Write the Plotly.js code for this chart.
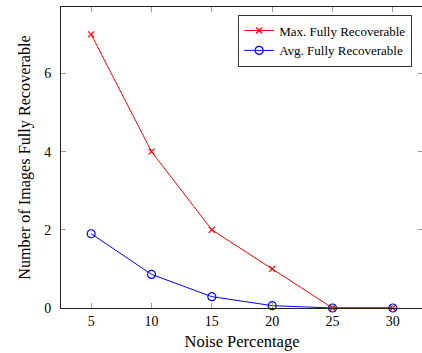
<!DOCTYPE html>
<html>
<head>
<meta charset="utf-8">
<script src="https://cdn.plot.ly/plotly-3.0.1.min.js"></script>
<style>
html,body{margin:0;padding:0;overflow:hidden;background:#fff;}
#chart{width:425px;height:353px;}
</style>
</head>
<body>
<div id="chart"></div>
<script>
const noise = [5, 10, 15, 20, 25, 30];
const maxRecoverable = [7, 4, 2, 1, 0, 0];
const avgRecoverable = [1.9, 0.86, 0.29, 0.06, 0, 0];
const seriesNames = ['Max. Fully Recoverable', 'Avg. Fully Recoverable'];

const FONT = 'Liberation Serif, Times New Roman, serif';

const traces = [
  {
    x: noise, y: maxRecoverable, name: seriesNames[0],
    mode: 'lines+markers', type: 'scatter', cliponaxis: false,
    line: {color: '#ff0000', width: 1},
    marker: {symbol: 'x-thin-open', size: 6, color: '#ff0000', line: {color: '#ff0000', width: 1.2}}
  },
  {
    x: noise, y: avgRecoverable, name: seriesNames[1],
    mode: 'lines+markers', type: 'scatter', cliponaxis: false,
    line: {color: '#0000ff', width: 1},
    marker: {symbol: 'circle-open', size: 8, color: '#0000ff', line: {color: '#0000ff', width: 1.2}}
  }
];

const layout = {
  width: 425, height: 353,
  margin: {l: 61, r: 2, t: 7, b: 45},
  paper_bgcolor: '#fff', plot_bgcolor: '#fff',
  font: {family: FONT, color: '#000', size: 14},
  showlegend: true,
  legend: {
    x: 0.97, y: 0.975, xanchor: 'right', yanchor: 'top',
    bordercolor: '#333', borderwidth: 1, bgcolor: '#fff',
    font: {family: FONT, size: 13, color: '#000'},
    tracegroupgap: 0, itemwidth: 30
  },
  xaxis: {
    range: [2.5, 32.5], tickvals: noise, ticktext: noise.map(String),
    showgrid: false, zeroline: false,
    showline: true, linecolor: '#222', linewidth: 1, mirror: 'ticks',
    ticks: 'inside', ticklen: 5, tickcolor: '#999', tickwidth: 1,
    tickfont: {family: FONT, size: 14},
    title: {text: 'Noise Percentage', font: {family: FONT, size: 16.5}, standoff: 7}
  },
  yaxis: {
    range: [0, 7.7], tickvals: [0, 2, 4, 6], ticktext: ['0', '2', '4', '6'],
    showgrid: false, zeroline: false,
    showline: true, linecolor: '#222', linewidth: 1, mirror: 'ticks',
    ticks: 'inside', ticklen: 5, tickcolor: '#999', tickwidth: 1,
    tickfont: {family: FONT, size: 14},
    ticklabelstandoff: 6,
    title: {text: 'Number of Images Fully Recoverable', font: {family: FONT, size: 16.2}, standoff: 9}
  }
};

Plotly.newPlot('chart', traces, layout, {displayModeBar: false, staticPlot: true});
</script>
</body>
</html>
